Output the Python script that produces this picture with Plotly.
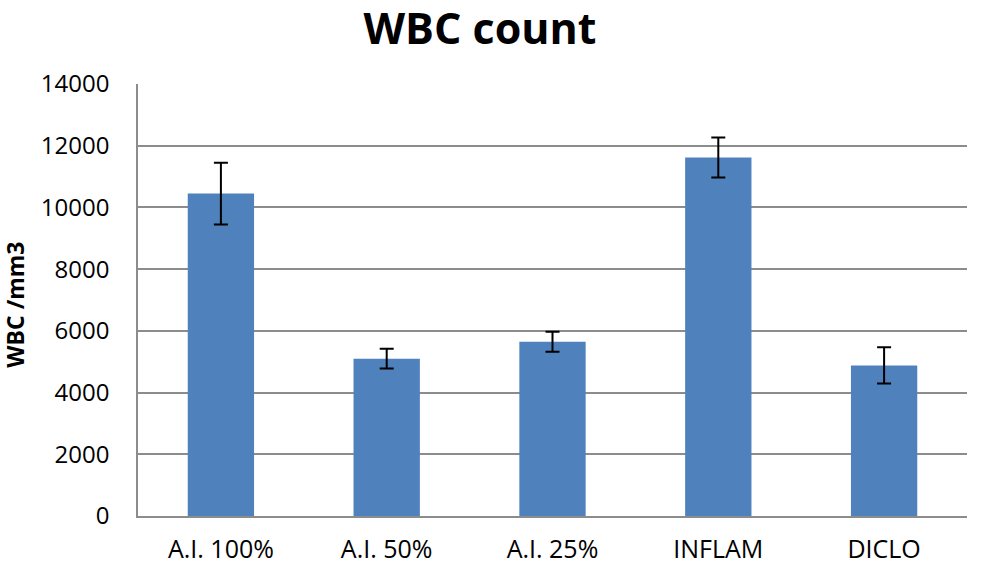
import plotly.graph_objects as go

# Data
groups = ['A.I. 100%', 'A.I. 50%', 'A.I. 25%', 'INFLAM', 'DICLO']
wbc_mean = [10450, 5100, 5650, 11620, 4880]
wbc_err = [1000, 320, 325, 650, 590]
y_ticks = [0, 2000, 4000, 6000, 8000, 10000, 12000, 14000]

fig = go.Figure(
    go.Bar(
        x=groups,
        y=wbc_mean,
        marker=dict(color='#4f81bd', line=dict(width=0)),
        error_y=dict(type='data', array=wbc_err, color='black', thickness=2, width=7),
    )
)

fig.update_layout(
    width=1000,
    height=584,
    margin=dict(l=138, r=33, t=84, b=68),
    paper_bgcolor='white',
    plot_bgcolor='white',
    font=dict(family='Open Sans, Lato, sans-serif', color='black', size=20),
    title=dict(
        text='<b>WBC count</b>',
        x=0.48,
        xanchor='center',
        y=0.951,
        yanchor='middle',
        font=dict(size=43, family='Open Sans, sans-serif'),
    ),
    bargap=0.6,
    showlegend=False,
)

# rotated y axis title, placed by hand to sit at the far left like the original
fig.add_annotation(
    text='<b>WBC /mm3</b>',
    xref='paper', yref='paper',
    x=-0.148, y=0.49,
    xanchor='center', yanchor='middle',
    textangle=-90,
    showarrow=False,
    font=dict(size=23),
)

fig.update_yaxes(
    range=[0, 14000],
    tickvals=y_ticks,
    tickformat='d',
    showgrid=True,
    gridcolor='#8c8c8c',
    gridwidth=1.5,
    zeroline=False,
    showline=True,
    linecolor='#8c8c8c',
    linewidth=1.5,
    ticks='',
    ticklabelstandoff=22,
    tickfont=dict(size=24),
)

fig.update_xaxes(
    showline=True,
    linecolor='#8c8c8c',
    linewidth=1.5,
    ticks='',
    ticklabelstandoff=10,
    tickfont=dict(size=25),
)

# drop the default 8px body margin so the figure lines up with the window
fig.write_html(
    'out.html',
    config={'displayModeBar': False},
    post_script="document.body.style.margin='0';",
)
